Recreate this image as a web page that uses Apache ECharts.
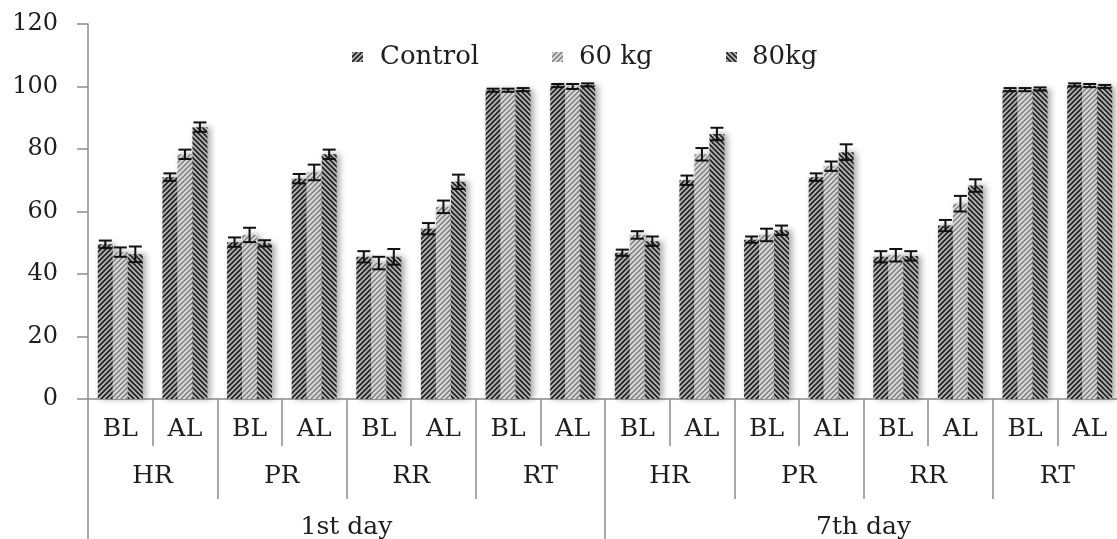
<!DOCTYPE html>
<html>
<head>
<meta charset="utf-8">
<script src="https://cdn.jsdelivr.net/npm/echarts@6/dist/echarts.min.js"></script>
<style>
  html, body { margin: 0; padding: 0; background: #fff; }
  #chart { width: 1117px; height: 539px; }
</style>
</head>
<body>
<div id="chart"></div>
<script>
const subCats = ['BL', 'AL', 'BL', 'AL', 'BL', 'AL', 'BL', 'AL', 'BL', 'AL', 'BL', 'AL', 'BL', 'AL', 'BL', 'AL'];
const params = ['HR', 'PR', 'RR', 'RT', 'HR', 'PR', 'RR', 'RT'];
const days = ['1st day', '7th day'];
const seriesNames = ['Control', '60 kg', '80kg'];

const controlVals = [49.5, 71, 50.2, 70.5, 45.5, 54.5, 98.8, 100.3, 46.8, 70, 51, 71, 45.5, 55.5, 99, 100.5];
const kg60Vals = [47, 78.3, 52.5, 72.5, 43.5, 61.5, 98.8, 100, 52.5, 78.3, 52.5, 74.5, 46, 62.5, 99, 100.3];
const kg80Vals = [46.3, 87, 49.8, 78.3, 45.5, 69.5, 99, 100.5, 50.5, 84.8, 54, 79, 45.8, 68.3, 99.2, 100];

const controlErr = [1.2, 1.2, 1.5, 1.5, 1.8, 1.8, 0.5, 0.5, 1.0, 1.5, 1.0, 1.2, 1.8, 1.8, 0.5, 0.5];
const kg60Err = [1.5, 1.5, 2.3, 2.5, 2.0, 2.0, 0.5, 0.8, 1.2, 2.0, 2.0, 1.5, 2.0, 2.5, 0.5, 0.5];
const kg80Err = [2.5, 1.5, 1.0, 1.5, 2.5, 2.3, 0.5, 0.5, 1.5, 2.0, 1.5, 2.5, 1.5, 2.0, 0.5, 0.5];

const FONT = 'DejaVu Serif';
const TXT = '#1e1e1e';
const AX = '#8c8c8c';
const BAR_W = 15;

// small hatch tile used as bar fill
function hatch(bg, fg, lw, dir) {
    const s = 5;
    const c = document.createElement('canvas');
    c.width = s; c.height = s;
    const ctx = c.getContext('2d');
    ctx.fillStyle = bg;
    ctx.fillRect(0, 0, s, s);
    ctx.strokeStyle = fg;
    ctx.lineWidth = lw;
    ctx.beginPath();
    if (dir > 0) {
        ctx.moveTo(-1, s + 1); ctx.lineTo(s + 1, -1);
        ctx.moveTo(-1, 1); ctx.lineTo(1, -1);
        ctx.moveTo(s - 1, s + 1); ctx.lineTo(s + 1, s - 1);
    } else {
        ctx.moveTo(-1, -1); ctx.lineTo(s + 1, s + 1);
        ctx.moveTo(s - 1, -1); ctx.lineTo(s + 1, 1);
        ctx.moveTo(-1, s - 1); ctx.lineTo(1, s + 1);
    }
    ctx.stroke();
    return { image: c, repeat: 'repeat' };
}

const fills = [
    hatch('#b8b8b8', '#262626', 1.9, 1),
    hatch('#d8d8d8', '#7a7a7a', 1.4, 1),
    hatch('#b8b8b8', '#262626', 1.9, -1)
];
const vals = [controlVals, kg60Vals, kg80Vals];
const errs = [controlErr, kg60Err, kg80Err];

function errSeries(k) {
    return {
        type: 'custom',
        z: 5,
        silent: true,
        data: vals[k].map((v, i) => [i, v, errs[k][i]]),
        encode: { x: 0, y: 1 },
        renderItem(p, api) {
            const i = api.value(0), v = api.value(1), e = api.value(2);
            const top = api.coord([i, v + e]);
            const bot = api.coord([i, v - e]);
            const x = top[0] + (k - 1) * BAR_W;
            const cap = 6.5;
            const st = { stroke: '#111', lineWidth: 2 };
            return {
                type: 'group',
                children: [
                    { type: 'line', shape: { x1: x, y1: top[1], x2: x, y2: bot[1] }, style: st },
                    { type: 'line', shape: { x1: x - cap, y1: top[1], x2: x + cap, y2: top[1] }, style: st },
                    { type: 'line', shape: { x1: x - cap, y1: bot[1], x2: x + cap, y2: bot[1] }, style: st }
                ]
            };
        }
    };
}

const legendLeft = [352, 552, 726];
const legendPad = [12, 11, 10];

function catAxis(data, tickLen, margin, showLine) {
    return {
        type: 'category',
        data: data,
        position: 'bottom',
        axisLine: { show: showLine, lineStyle: { color: AX, width: 1.5 } },
        axisTick: { show: true, interval: 0, length: tickLen, lineStyle: { color: AX, width: 1.5 } },
        axisLabel: { show: true, interval: 0, margin: margin, fontFamily: FONT, fontSize: 25, color: TXT }
    };
}

const chart = echarts.init(document.getElementById('chart'), null, { renderer: 'canvas' });

chart.setOption({
    backgroundColor: '#fff',
    animation: false,
    legend: seriesNames.map((n, k) => ({
        data: [n],
        left: legendLeft[k],
        top: 44,
        padding: 0,
        itemWidth: 11,
        itemHeight: 10,
        icon: 'rect',
        selectedMode: false,
        textStyle: { fontFamily: FONT, fontSize: 26, color: TXT, padding: [0, 0, 0, legendPad[k]] }
    })),
    grid: { left: 88, top: 24, width: 1034, height: 375, outerBoundsMode: 'none' },
    xAxis: [
        catAxis(subCats, 47, 18, true),
        catAxis(params, 100, 65, false),
        catAxis(days, 160, 116, false)
    ],
    yAxis: {
        type: 'value',
        min: 0,
        max: 120,
        interval: 20,
        axisLine: { show: true, lineStyle: { color: AX, width: 1.5 } },
        axisTick: { show: true, length: 11, lineStyle: { color: AX, width: 1.5 } },
        splitLine: { show: false },
        axisLabel: { margin: 30, fontFamily: FONT, fontSize: 24, color: TXT }
    },
    series: seriesNames.map((n, k) => ({
        name: n,
        type: 'bar',
        barWidth: BAR_W,
        barGap: '0%',
        data: vals[k],
        itemStyle: {
            color: fills[k],
            shadowColor: 'rgba(0,0,0,0.35)',
            shadowBlur: 6,
            shadowOffsetX: 3
        }
    })).concat([0, 1, 2].map(errSeries))
});
</script>
</body>
</html>
